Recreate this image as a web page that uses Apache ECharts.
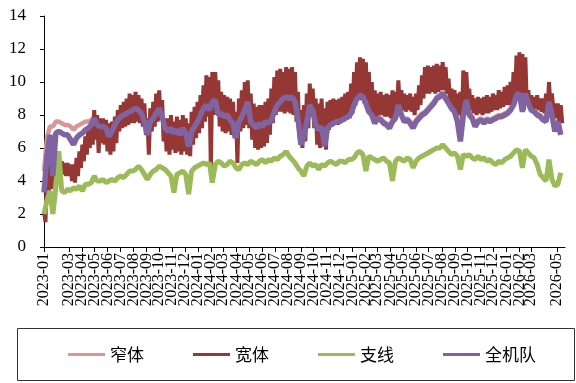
<!DOCTYPE html>
<html><head><meta charset="utf-8">
<script src="https://cdn.jsdelivr.net/npm/echarts@6/dist/echarts.min.js"></script>
<style>html,body{margin:0;padding:0;background:#fff}#c{width:576px;height:383px}</style>
</head><body><div id="c"></div>
<script>
// ---- data (weekly samples from 2023-01-01) ----
const seriesNames = ['窄体', '宽体', '支线', '全机队'];
const stepDays = 7;
const axisEndDay = 1235;

const narrowBody = [
4.6,6.6,7.3,7.3,7.6,7.6,7.5,7.4,7.4,7.3,
7.1,7.3,7.4,7.5,7.6,7.6,7.7,7.9,7.6,7.5,
7.4,7.3,6.8,7.1,7.5,7.8,8.0,8.1,8.2,8.3,
8.4,8.5,8.4,8.2,7.7,6.9,7.7,7.9,8.2,8.5,
8.0,7.3,7.1,7.3,7.0,7.2,6.9,7.3,7.0,6.2,
7.1,7.4,7.7,8.1,8.5,8.7,8.4,8.9,9.0,8.1,
8.2,8.0,8.1,7.8,7.6,6.7,7.7,8.0,8.4,8.9,
7.7,7.5,7.3,7.6,7.4,7.7,7.6,7.8,8.3,8.7,
8.9,9.1,9.2,9.1,9.2,8.9,7.9,6.3,6.8,7.7,
8.7,8.4,7.5,7.2,7.4,6.2,7.3,7.5,7.6,7.7,
7.7,7.8,7.9,8.0,8.2,8.7,9.1,9.3,9.2,8.8,
8.3,8.1,7.6,7.9,7.8,7.6,7.5,7.3,7.7,7.9,
8.7,8.1,7.7,7.8,7.6,7.3,7.7,7.9,8.1,8.2,
8.4,8.6,8.8,9.1,9.2,9.4,9.1,8.8,8.5,8.3,
7.7,6.5,8.1,9.0,8.1,7.9,7.4,7.7,7.8,7.6,
7.8,7.7,7.8,7.9,8.0,8.0,8.1,8.2,8.4,8.7,
9.3,9.4,8.3,9.4,8.8,8.4,8.3,8.1,8.0,7.8,
7.7,8.9,8.1,7.1,7.7,6.9];

// wide-body: upper and lower envelope of the daily swing
const wideHigh = [
2.2,4.5,5.3,5.0,5.3,5.2,5.2,5.1,5.1,5.0,
5.0,5.4,5.8,6.2,6.7,7.2,7.6,8.3,8.0,7.8,
7.8,7.7,7.5,7.6,7.9,8.3,8.6,8.8,9.0,9.3,
9.2,9.4,9.2,9.0,8.7,7.8,8.4,8.8,9.3,9.5,
8.9,7.8,7.8,8.0,7.6,7.9,7.7,8.0,7.8,7.5,
8.2,8.5,8.8,9.2,9.8,10.4,10.3,10.6,10.6,10.1,
9.4,9.2,9.1,9.0,8.8,8.2,9.0,9.5,10.0,10.1,
9.3,8.7,8.5,8.6,8.6,8.8,9.0,9.6,10.3,10.7,
10.8,10.6,10.9,10.8,10.9,10.6,9.4,8.3,8.6,9.3,
9.9,9.6,9.0,8.7,9.0,8.4,8.8,8.9,9.0,8.9,
9.0,9.1,9.3,9.4,9.9,10.6,11.2,11.5,11.4,11.2,
10.6,10.0,9.5,9.3,9.4,9.2,9.3,9.2,9.5,9.4,
10.1,9.5,9.3,9.2,9.3,9.1,9.3,9.8,10.4,10.9,
11.0,10.9,11.0,11.1,11.0,11.2,10.9,10.2,9.6,9.5,
9.3,9.4,10.7,10.6,9.6,9.2,9.0,9.1,9.0,9.1,
9.2,9.1,9.3,9.2,9.5,9.4,9.7,9.8,10.0,10.6,
11.6,11.8,11.7,11.5,9.5,9.2,9.1,9.2,9.0,9.0,
9.3,10.0,9.3,8.7,8.7,8.6];
const wideLow = [
1.5,2.8,3.5,4.2,4.2,4.3,4.4,4.3,4.3,4.0,
3.9,4.3,4.8,5.2,5.6,6.0,6.2,6.5,5.7,6.3,
6.2,5.8,5.6,5.8,6.3,7.0,7.2,7.3,7.4,7.5,
7.5,7.6,7.5,7.3,6.8,5.6,7.0,7.3,7.6,7.7,
6.4,5.8,5.6,5.9,5.7,5.8,5.6,5.8,5.6,5.5,
6.2,6.6,6.9,7.2,7.6,7.9,4.7,8.0,8.2,7.3,
7.0,6.9,7.0,6.8,6.6,5.1,7.0,7.2,7.4,7.2,
6.5,6.0,5.9,6.0,6.1,6.3,6.8,7.5,8.0,8.2,
8.2,8.1,8.2,8.1,8.0,7.6,6.6,6.0,6.4,7.2,
7.9,7.2,6.2,6.0,6.6,5.9,7.1,7.3,7.4,7.4,
7.5,7.6,7.7,7.8,8.1,8.6,8.9,8.9,8.7,8.4,
8.2,8.0,7.9,8.0,8.0,7.9,7.9,7.8,8.0,8.1,
8.4,8.3,8.2,8.3,8.2,8.0,8.3,8.6,9.0,9.3,
9.3,9.4,9.3,9.4,9.5,9.5,9.3,8.7,8.3,8.2,
8.0,7.8,8.8,8.9,8.3,8.1,8.0,8.1,8.0,8.1,
8.1,8.2,8.3,8.3,8.4,8.5,8.6,8.6,8.7,8.9,
9.0,9.2,8.3,8.6,8.4,8.3,8.4,8.3,8.2,8.1,
8.0,8.6,8.3,7.8,7.6,7.5];

const regional = [
2.0,2.8,3.4,2.0,3.6,5.8,3.4,3.3,3.5,3.4,
3.6,3.5,3.7,3.4,3.8,3.8,3.9,4.3,4.0,4.0,
4.1,3.9,4.0,4.1,4.0,4.2,4.3,4.2,4.4,4.6,
4.6,4.7,4.9,4.7,4.4,4.1,4.4,4.6,4.7,4.9,
4.8,4.7,4.5,4.3,3.3,4.4,4.5,4.6,4.4,3.2,
4.6,4.8,4.9,5.0,5.1,5.0,5.1,3.9,5.0,5.2,
5.1,4.9,5.0,5.2,5.1,4.8,4.7,5.0,5.1,5.0,
5.2,5.1,5.0,5.2,5.3,5.1,5.3,5.2,5.4,5.3,
5.5,5.6,5.8,5.5,5.3,5.1,4.8,4.6,4.3,4.9,
5.1,4.9,5.0,4.7,5.0,4.9,5.1,5.2,5.1,5.0,
5.2,5.2,5.1,5.3,5.3,5.4,5.7,5.8,5.6,4.6,
5.5,5.4,5.3,5.2,5.3,5.4,5.2,5.1,4.0,5.2,
5.4,5.3,5.2,5.4,5.3,4.8,5.2,5.4,5.5,5.6,
5.7,5.8,5.9,6.0,6.0,6.2,6.0,5.8,5.6,5.7,
5.5,4.7,5.6,5.5,5.6,5.4,5.3,5.5,5.3,5.4,
5.2,5.3,5.1,5.0,5.2,5.1,5.3,5.4,5.5,5.7,
5.9,5.8,4.8,5.9,5.7,5.5,5.4,5.0,4.4,4.2,
4.0,5.3,4.1,3.7,3.8,4.5];

const fleet = [
3.3,5.5,6.8,4.3,6.9,7.0,6.9,6.8,6.8,6.5,
6.2,6.6,6.8,6.9,7.1,7.2,7.4,7.8,7.4,7.3,
7.3,7.2,6.7,7.0,7.4,7.7,7.9,8.0,8.1,8.2,
8.3,8.4,8.3,8.1,7.6,6.8,7.6,7.8,8.1,8.4,
7.9,7.2,7.0,7.2,6.9,7.1,6.8,7.2,6.9,6.1,
7.0,7.3,7.6,8.0,8.4,8.6,8.3,8.8,8.9,8.0,
8.1,7.9,8.0,7.7,7.5,6.6,7.6,7.9,8.3,8.8,
7.6,7.4,7.2,7.5,7.3,7.6,7.5,7.7,8.2,8.6,
8.8,9.0,9.1,9.0,9.1,8.8,7.8,6.2,6.7,7.6,
8.6,8.3,7.4,7.1,7.3,6.1,7.2,7.4,7.5,7.6,
7.6,7.7,7.8,7.9,8.1,8.6,9.0,9.2,9.1,8.7,
8.2,8.0,7.5,7.8,7.7,7.5,7.4,7.2,7.6,7.8,
8.6,8.0,7.6,7.7,7.5,7.2,7.6,7.8,8.0,8.1,
8.3,8.5,8.7,9.0,9.1,9.3,9.0,8.7,8.4,8.2,
7.6,6.4,8.0,8.9,8.0,7.8,7.3,7.6,7.7,7.5,
7.7,7.6,7.7,7.8,7.9,7.9,8.0,8.1,8.3,8.6,
9.2,9.3,8.2,9.3,8.7,8.3,8.2,8.0,7.9,7.7,
7.6,8.8,8.0,7.0,7.6,6.8];

// ---- month tick labels ----
const monthLabels = [];
const monthStarts = [];
for (let y = 2023; y <= 2026; y++) {
  for (let m = 1; m <= 12; m++) {
    if (y === 2026 && m > 5) break;
    monthLabels.push(y + '-' + String(m).padStart(2, '0'));
    monthStarts.push(Math.round((Date.UTC(y, m - 1, 1) - Date.UTC(2023, 0, 1)) / 86400000));
  }
}

const weekly = arr => arr.map((v, i) => [i * stepDays, v]);
const wideData = [];
wideHigh.forEach((v, i) => {
  wideData.push([i * stepDays, v]);
  wideData.push([i * stepDays + stepDays / 2, wideLow[i]]);
});

const colors = ['#D99694', '#953735', '#9BBB59', '#8064A2'];
const chart = echarts.init(document.getElementById('c'), null, {renderer: 'canvas'});
const serif = 'Liberation Serif, Times New Roman, serif';
chart.setOption({
  animation: false,
  color: colors,
  grid: {left: 44, right: 11, top: 16, bottom: 136},
  xAxis: {
    type: 'value', min: 0, max: axisEndDay,
    axisLine: {show: true, lineStyle: {color: '#000', width: 1}},
    axisTick: {show: true, customValues: monthStarts, length: 5, lineStyle: {color: '#000'}},
    axisLabel: {
      customValues: monthStarts, rotate: 90, margin: 6, hideOverlap: false,
      showMinLabel: true, showMaxLabel: true,
      fontFamily: serif, fontSize: 16, lineHeight: 10, color: '#000',
      formatter: v => { const i = monthStarts.indexOf(Math.round(v)); return i >= 0 ? monthLabels[i] : ''; }
    },
    splitLine: {show: false}
  },
  yAxis: {
    type: 'value', min: 0, max: 14, interval: 2,
    axisLine: {show: true, lineStyle: {color: '#000', width: 1}},
    axisTick: {show: true, length: 4, lineStyle: {color: '#000'}},
    axisLabel: {margin: 18, fontFamily: serif, fontSize: 17, color: '#000'},
    splitLine: {show: false}
  },
  legend: {
    data: seriesNames, left: 63, top: 341, icon: 'rect',
    itemWidth: 37, itemHeight: 3, itemGap: 49,
    textStyle: {fontFamily: 'Noto Sans CJK SC', fontSize: 17, color: '#000'}
  },
  graphic: [{
    type: 'rect', silent: true,
    shape: {x: 17.5, y: 328.5, width: 557, height: 52},
    style: {fill: 'none', stroke: '#333', lineWidth: 1}
  }],
  series: [
    {name: seriesNames[0], type: 'line', data: weekly(narrowBody), showSymbol: false, lineStyle: {width: 4.5}},
    {name: seriesNames[1], type: 'line', data: wideData, showSymbol: false, lineStyle: {width: 4}},
    {name: seriesNames[2], type: 'line', data: weekly(regional), showSymbol: false, lineStyle: {width: 5}},
    {name: seriesNames[3], type: 'line', data: weekly(fleet), showSymbol: false, lineStyle: {width: 5.5}}
  ]
});
</script></body></html>
